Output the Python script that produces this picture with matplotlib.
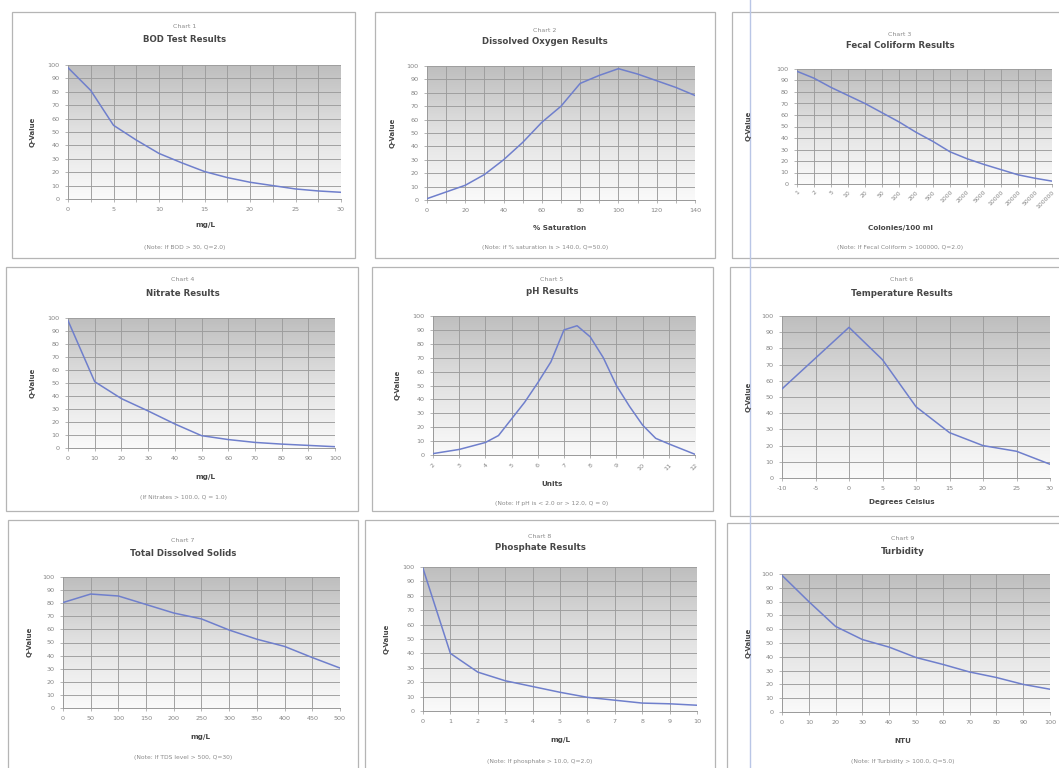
import numpy as np
import matplotlib
matplotlib.use("Agg")
import matplotlib.pyplot as plt
from matplotlib.patches import Rectangle
from matplotlib.lines import Line2D
from matplotlib.colors import LinearSegmentedColormap

# ---------------- data ----------------
bod_x = [0, 2.5, 5, 7.5, 10, 12.5, 15, 17.5, 20, 22.5, 25, 27.5, 30]
bod_q = [98, 81, 55, 44, 34, 27, 20.5, 16, 12.5, 10, 7.5, 6, 5]

do_x = [0, 20, 30, 40, 50, 60, 70, 80, 90, 100, 110, 120, 130, 140]
do_q = [1, 11, 19, 30, 43, 58, 70, 87, 93, 98, 94, 89, 84, 78]

fc_labels = ["1", "2", "5", "10", "20", "50", "100", "200", "500", "1000", "2000",
             "5000", "10000", "20000", "50000", "100000"]
fc_q = [98, 92, 84, 77, 70, 62, 54, 45, 37, 28, 22, 17, 12.5, 8, 5, 2.5]

no3_x = [0, 10, 20, 30, 40, 50, 60, 70, 80, 90, 100]
no3_q = [98, 51, 38, 28.5, 18.5, 9.5, 6.5, 4.3, 3, 2, 1]

ph_x = [2, 3, 4, 4.5, 5, 5.5, 6, 6.5, 7, 7.5, 8, 8.5, 9, 9.5, 10, 10.5, 11, 12]
ph_q = [1, 4, 9, 14, 26, 38, 52, 67, 90, 93, 85, 70, 50, 35, 21.5, 12, 8, 0.5]

temp_x = [-10, -5, 0, 5, 10, 15, 20, 25, 30]
temp_q = [55, 74, 93, 73, 44, 28, 20, 16.5, 8.5]

tds_x = [0, 50, 100, 150, 200, 250, 300, 350, 400, 450, 500]
tds_q = [80.5, 87, 85.5, 79, 72.5, 68, 59.5, 52.5, 47, 38.5, 30.5]

po4_x = [0, 1, 2, 3, 4, 5, 6, 7, 8, 9, 10]
po4_q = [99, 40, 27, 21, 17, 13, 9.5, 7.5, 5.5, 5, 4]

turb_x = [0, 10, 20, 30, 40, 50, 60, 70, 80, 90, 100]
turb_q = [99, 80, 62, 52.5, 47, 39.5, 34.5, 29, 25, 20, 16.5]

chart_nums = ["Chart 1", "Chart 2", "Chart 3", "Chart 4", "Chart 5",
              "Chart 6", "Chart 7", "Chart 8", "Chart 9"]
chart_titles = ["BOD Test Results", "Dissolved Oxygen Results", "Fecal Coliform Results",
                "Nitrate Results", "pH Results", "Temperature Results",
                "Total Dissolved Solids", "Phosphate Results", "Turbidity"]
x_titles = ["mg/L", "% Saturation", "Colonies/100 ml", "mg/L", "Units",
            "Degrees Celsius", "mg/L", "mg/L", "NTU"]
notes = ["(Note: If BOD > 30, Q=2.0)",
         "(Note: if % saturation is > 140.0, Q=50.0)",
         "(Note: If Fecal Coliform > 100000, Q=2.0)",
         "(If Nitrates > 100.0, Q = 1.0)",
         "(Note: If pH is < 2.0 or > 12.0, Q = 0)",
         "",
         "(Note: If TDS level > 500, Q=30)",
         "(Note: If phosphate > 10.0, Q=2.0)",
         "(Note: If Turbidity > 100.0, Q=5.0)"]
y_ticks = [0, 10, 20, 30, 40, 50, 60, 70, 80, 90, 100]

# ---------------- style ----------------
W, H = 1059, 768
plt.rcParams["font.family"] = ["DejaVu Sans"]
plt.rcParams["axes.unicode_minus"] = False
fig = plt.figure(figsize=(W / 100, H / 100), dpi=100)
fig.patch.set_facecolor("white")

LINE = "#6f7fcc"
GRID = "#9c9c9c"
TICKC = "#858585"
TITLEC = "#474747"

grad = np.linspace(0.0, 1.0, 256).reshape(-1, 1)
gcmap = LinearSegmentedColormap.from_list("g", ["#bebebe", "#e2e2e2", "#fafafa"])


def px(x, y):
    return x / W, 1 - y / H


def make_ax(l, t, r, b):
    ax = fig.add_axes([l / W, 1 - b / H, (r - l) / W, (b - t) / H])
    ax.imshow(grad, cmap=gcmap, aspect="auto", extent=[0, 1, 0, 1],
              transform=ax.transAxes, zorder=0, interpolation="bilinear")
    for s in ["top", "right"]:
        ax.spines[s].set_visible(False)
    for s in ["left", "bottom"]:
        ax.spines[s].set_color("#999999")
        ax.spines[s].set_linewidth(0.7)
    ax.tick_params(axis="both", colors="#999999", labelcolor=TICKC,
                   labelsize=4.6, length=2, width=0.5, pad=4)
    ax.set_ylim(0, 100)
    ax.set_yticks(y_ticks)
    ax.grid(True, color=GRID, lw=0.65, zorder=1)
    ax.set_axisbelow(False)
    return ax


def box(l, t, r, b):
    x0, y1 = px(l, t)
    x1, y0 = px(r, b)
    fig.patches.append(Rectangle((x0, y0), x1 - x0, y1 - y0, transform=fig.transFigure,
                                 fill=False, ec="#b5b5b5", lw=0.9))


def texts(i, cx, y_num, y_title, xl_x, xl_y, yl_x, yl_y, note_y):
    fig.text(*px(cx, y_num), chart_nums[i], ha="center", va="center",
             fontsize=4.5, color="#8a8a8a")
    fig.text(*px(cx, y_title), chart_titles[i], ha="center", va="center",
             fontsize=6.2, color=TITLEC, fontweight="bold")
    fig.text(*px(xl_x, xl_y), x_titles[i], ha="center", va="center",
             fontsize=5.2, color=TITLEC, fontweight="bold")
    fig.text(*px(yl_x, yl_y), "Q-Value", ha="center", va="center",
             fontsize=5, color=TITLEC, fontweight="bold", rotation=90)
    if notes[i]:
        fig.text(*px(cx, note_y), notes[i], ha="center", va="center",
                 fontsize=4.3, color="#8a8a8a")


# panel boxes
box(12, 12, 355, 258)
box(375, 12, 715, 258)
box(732, 12, 1070, 258)
box(6, 267, 358, 511)
box(372, 267, 713, 511)
box(730, 267, 1070, 516)
box(8, 520, 358, 790)
box(365, 520, 715, 790)
box(727, 523, 1070, 790)

# scan artefact line
fig.lines.append(Line2D([750 / W, 750 / W], [0, 1], transform=fig.transFigure,
                        color="#b9c6e6", lw=1.0))

# Chart 1 BOD
ax = make_ax(68, 65, 341, 199)
ax.plot(bod_x, bod_q, color=LINE, lw=1.1, zorder=3)
ax.set_xlim(0, 30)
ax.set_xticks(np.arange(0, 30.1, 2.5))
ax.set_xticklabels(["0", "", "5", "", "10", "", "15", "", "20", "", "25", "", "30"])
texts(0, 185, 26, 40, 205, 225, 33, 132, 247)

# Chart 2 DO
ax = make_ax(427, 66, 695, 200)
ax.plot(do_x, do_q, color=LINE, lw=1.1, zorder=3)
ax.set_xlim(0, 140)
ax.set_xticks(np.arange(0, 141, 10))
ax.set_xticklabels([str(v) if v % 20 == 0 else "" for v in range(0, 141, 10)])
texts(1, 545, 30, 42, 560, 228, 393, 133, 248)

# Chart 3 Fecal coliform
ax = make_ax(797, 69, 1052, 184)
idx = np.arange(len(fc_labels))
ax.plot(idx, fc_q, color=LINE, lw=1.1, zorder=3)
ax.set_xlim(0, len(fc_labels) - 1)
ax.set_xticks(idx)
ax.set_xticklabels(fc_labels, rotation=45, ha="right", va="top", rotation_mode="anchor")
ax.tick_params(axis="x", pad=2, labelsize=4.4)
texts(2, 900, 34, 46, 900, 228, 749, 126, 248)

# Chart 4 Nitrate
ax = make_ax(68, 318, 335, 448)
ax.plot(no3_x, no3_q, color=LINE, lw=1.1, zorder=3)
ax.set_xlim(0, 100)
ax.set_xticks(np.arange(0, 101, 10))
texts(3, 183, 280, 293, 205, 477, 33, 383, 498)

# Chart 5 pH
ax = make_ax(433, 316, 695, 455)
ax.plot(ph_x, ph_q, color=LINE, lw=1.1, zorder=3)
ax.set_xlim(2, 12)
ax.set_xticks(np.arange(2, 13, 1))
ax.set_xticklabels([str(v) for v in range(2, 13)], rotation=45, ha="right", va="top",
                   rotation_mode="anchor")
ax.tick_params(axis="x", pad=3)
texts(4, 552, 280, 291, 552, 484, 398, 385, 503)

# Chart 6 Temperature
ax = make_ax(782, 316, 1050, 478)
ax.plot(temp_x, temp_q, color=LINE, lw=1.1, zorder=3)
ax.set_xlim(-10, 30)
ax.set_xticks(np.arange(-10, 31, 5))
texts(5, 902, 280, 293, 902, 502, 749, 397, 520)

# Chart 7 TDS
ax = make_ax(63, 577, 340, 708)
ax.plot(tds_x, tds_q, color=LINE, lw=1.1, zorder=3)
ax.set_xlim(0, 500)
ax.set_xticks(np.arange(0, 501, 50))
texts(6, 183, 540, 554, 200, 737, 30, 642, 758)

# Chart 8 Phosphate
ax = make_ax(423, 567, 697, 711)
ax.plot(po4_x, po4_q, color=LINE, lw=1.1, zorder=3)
ax.set_xlim(0, 10)
ax.set_xticks(np.arange(0, 11, 1))
texts(7, 540, 536, 547, 560, 740, 387, 639, 761)

# Chart 9 Turbidity
ax = make_ax(782, 574, 1050, 712)
ax.plot(turb_x, turb_q, color=LINE, lw=1.1, zorder=3)
ax.set_xlim(0, 100)
ax.set_xticks(np.arange(0, 101, 10))
texts(8, 903, 538, 551, 903, 741, 749, 643, 762)

fig.savefig("out.png", dpi=100, facecolor="white")
